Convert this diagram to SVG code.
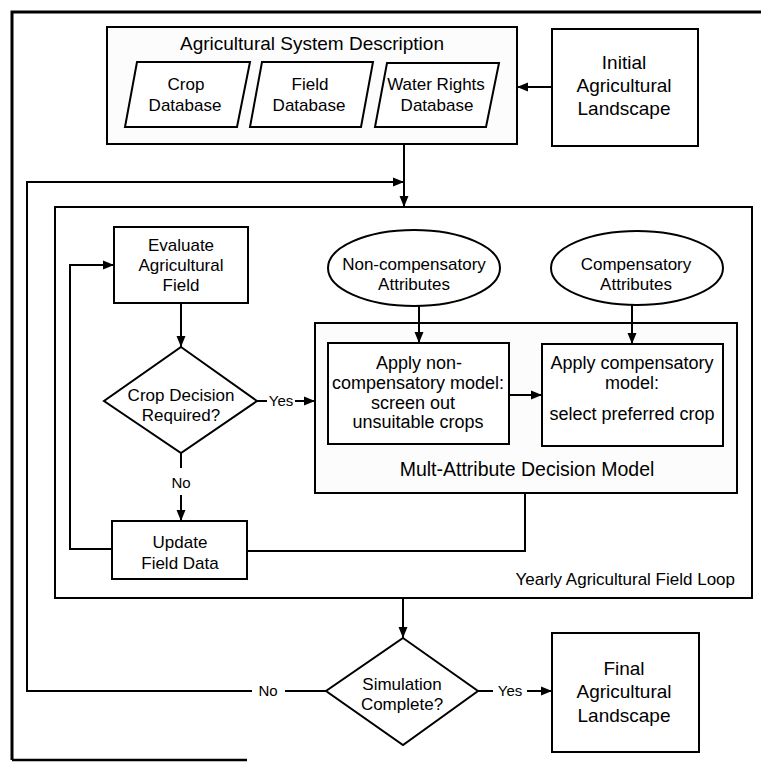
<svg xmlns="http://www.w3.org/2000/svg" width="761" height="762" viewBox="0 0 761 762">
<defs>
<marker id="arr" markerUnits="userSpaceOnUse" markerWidth="12" markerHeight="10" refX="11" refY="5" orient="auto">
<path d="M0,0.5 L11,5 L0,9.5 z" fill="#000"/>
</marker>
<style>
text{font-family:"Liberation Sans",Arial,sans-serif;fill:#000;text-anchor:middle}
.box{fill:#fff;stroke:#000;stroke-width:2}
.grp{fill:#fcfcfc;stroke:#000;stroke-width:2}
.con{fill:none;stroke:#000;stroke-width:2}
.arr{marker-end:url(#arr)}
.t17{font-size:17px}
.t18{font-size:18px}
.t19{font-size:19px}
.t15{font-size:15px}
</style>
</defs>
<rect width="761" height="762" fill="#fff"/>
<g id="frame">
<path d="M12,760 V12 H761" fill="none" stroke="#000" stroke-width="3"/>
<path d="M12,760 H247" fill="none" stroke="#000" stroke-width="2.5"/>
</g>
<g id="loop">
<rect class="box" x="55" y="207" width="697" height="391"/>
<text class="t17" x="735" y="585" style="text-anchor:end">Yearly Agricultural Field Loop</text>
</g>
<g id="system">
<rect class="grp" x="107" y="27" width="410" height="117"/>
<text class="t19" x="312" y="50">Agricultural System Description</text>
</g>
<g id="crop-db">
<polygon class="box" points="137,62 250,62 237,127 125,127"/>
<text class="t17"><tspan x="186" y="90">Crop</tspan><tspan x="185" y="111">Database</tspan></text>
</g>
<g id="field-db">
<polygon class="box" points="262,62 373,62 361,127 250,127"/>
<text class="t17"><tspan x="310" y="90">Field</tspan><tspan x="309" y="111">Database</tspan></text>
</g>
<g id="water-db">
<polygon class="box" points="387,63 499,63 486,127 375,127"/>
<text class="t17"><tspan x="436" y="90">Water Rights</tspan><tspan x="437" y="111">Database</tspan></text>
</g>
<g id="initial">
<rect class="box" x="552" y="29" width="146" height="117"/>
<text class="t19"><tspan x="624" y="69">Initial</tspan><tspan x="624" y="92">Agricultural</tspan><tspan x="624" y="115">Landscape</tspan></text>
</g>
<g id="evaluate">
<rect class="box" x="114" y="227" width="134" height="76"/>
<text class="t17"><tspan x="181" y="251">Evaluate</tspan><tspan x="181" y="271">Agricultural</tspan><tspan x="181" y="291">Field</tspan></text>
</g>
<g id="crop-decision">
<polygon class="box" points="181,347 257,401 181,453 104,401"/>
<text class="t17"><tspan x="181" y="401">Crop Decision</tspan><tspan x="181" y="421">Required?</tspan></text>
</g>
<g id="update">
<rect class="box" x="112" y="521" width="135" height="58"/>
<text class="t17"><tspan x="180" y="548">Update</tspan><tspan x="180" y="569">Field Data</tspan></text>
</g>
<g id="madm">
<rect class="grp" x="315" y="323" width="422" height="170"/>
<text x="527" y="476" style="font-size:19.5px">Mult-Attribute Decision Model</text>
</g>
<g id="noncomp-attr">
<ellipse class="box" cx="414" cy="268" rx="86" ry="38"/>
<text class="t17"><tspan x="414" y="270">Non-compensatory</tspan><tspan x="414" y="290">Attributes</tspan></text>
</g>
<g id="comp-attr">
<ellipse class="box" cx="637" cy="268" rx="86" ry="37"/>
<text class="t17"><tspan x="636" y="270">Compensatory</tspan><tspan x="636" y="290">Attributes</tspan></text>
</g>
<g id="noncomp-model">
<rect class="box" x="328" y="343" width="181" height="101"/>
<text class="t18"><tspan x="419" y="369">Apply non-</tspan><tspan x="418" y="389">compensatory model:</tspan><tspan x="413" y="409">screen out</tspan><tspan x="418" y="428">unsuitable crops</tspan></text>
</g>
<g id="comp-model">
<rect class="box" x="542" y="344" width="181" height="102"/>
<text class="t18"><tspan x="632" y="369">Apply compensatory</tspan><tspan x="632" y="389">model:</tspan><tspan x="632" y="420">select preferred crop</tspan></text>
</g>
<g id="simulation">
<polygon class="box" points="403,638 478,691 403,745 326,691"/>
<text class="t17"><tspan x="402" y="690">Simulation</tspan><tspan x="402" y="710">Complete?</tspan></text>
</g>
<g id="final">
<rect class="box" x="552" y="633" width="147" height="119"/>
<text class="t19"><tspan x="624" y="675">Final</tspan><tspan x="624" y="698">Agricultural</tspan><tspan x="624" y="722">Landscape</tspan></text>
</g>
<g id="connectors">
<path class="con arr" d="M552,87 H517"/>
<path class="con arr" d="M404,144 V207"/>
<path class="con" d="M326,691 H285"/>
<path class="con arr" d="M252,691 H27 V182 H404"/>
<path class="con arr" d="M403,598 V638"/>
<path class="con" d="M478,691 H493"/>
<path class="con arr" d="M527,691 H552"/>
<path class="con arr" d="M181,303 V347"/>
<path class="con" d="M257,401 H267"/>
<path class="con arr" d="M295,401 H315"/>
<path class="con" d="M181,453 V468"/>
<path class="con arr" d="M181,495 V521"/>
<path class="con arr" d="M112,549 H70 V265 H114"/>
<path class="con" d="M247,551 H525 V493"/>
<path class="con arr" d="M419,306 V343"/>
<path class="con arr" d="M632,305 V344"/>
<path class="con arr" d="M509,395 H542"/>
<text class="t15" x="268" y="696">No</text>
<text class="t15" x="510" y="696">Yes</text>
<text class="t15" x="281" y="406">Yes</text>
<text class="t15" x="181" y="488">No</text>
</g>
</svg>
